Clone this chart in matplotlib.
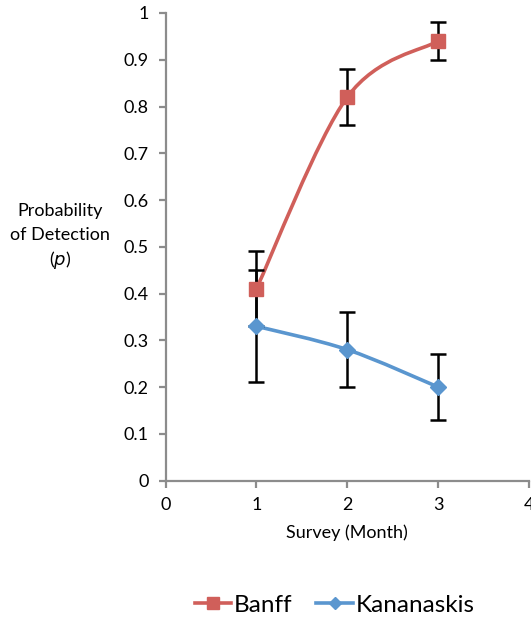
import numpy as np
import matplotlib.pyplot as plt
from matplotlib.path import Path
from matplotlib.patches import PathPatch
from matplotlib.lines import Line2D

plt.rcParams['font.family'] = ['Lato', 'DejaVu Sans']

survey = [1, 2, 3]
banff = [0.41, 0.82, 0.94]
banff_err = [0.08, 0.06, 0.04]
kananaskis = [0.33, 0.28, 0.20]
kananaskis_err = [0.12, 0.08, 0.07]

red = '#D05F5A'
blue = '#5A96CF'
grey = '#8C8C8C'


def smooth_path(xs, ys):
    # excel-style smoothed line: bezier segments through the points
    p = np.column_stack([xs, ys]).astype(float)
    pts = [p[0]]
    codes = [Path.MOVETO]
    n = len(p)
    for i in range(n - 1):
        p0 = p[max(i - 1, 0)]
        p3 = p[min(i + 2, n - 1)]
        c1 = p[i] + (p[i + 1] - p0) / 6
        c2 = p[i + 1] - (p3 - p[i]) / 6
        pts += [c1, c2, p[i + 1]]
        codes += [Path.CURVE4] * 3
    return Path(pts, codes)


fig = plt.figure(figsize=(5.31, 6.19), dpi=100)
ax = fig.add_axes([0.3117, 0.2237, 0.6845, 0.7553])

for vals, err, col, mk, ms in [(banff, banff_err, red, 's', 10),
                                (kananaskis, kananaskis_err, blue, 'D', 8)]:
    ax.add_patch(PathPatch(smooth_path(survey, vals), fill=False, edgecolor=col,
                           lw=2.6, zorder=2, capstyle='round'))
    ax.errorbar(survey, vals, yerr=err, fmt='none', ecolor='black',
                elinewidth=1.8, capsize=6, capthick=1.8, zorder=3)
    ax.plot(survey, vals, ls='none', marker=mk, ms=ms, color=col, zorder=4)

ax.set_xlim(0, 4)
ax.set_ylim(0, 1)
ax.set_xticks([0, 1, 2, 3, 4])
ax.set_yticks(np.arange(0, 1.01, 0.1))
ax.set_yticklabels(['0', '0.1', '0.2', '0.3', '0.4', '0.5', '0.6', '0.7', '0.8', '0.9', '1'])
for s in ['top', 'right']:
    ax.spines[s].set_visible(False)
for s in ['left', 'bottom']:
    ax.spines[s].set_color(grey)
    ax.spines[s].set_linewidth(1.6)
ax.tick_params(colors=grey, labelcolor='black', width=1.6, length=5,
               labelsize=13, pad=7)
ax.set_xlabel('Survey (Month)', fontsize=13, labelpad=8)
ax.patch.set_visible(False)

fig.text(0.113, 1 - 211 / 619, 'Probability', ha='center', va='center', fontsize=13)
fig.text(0.113, 1 - 235 / 619, 'of Detection', ha='center', va='center', fontsize=13)
fig.text(0.113, 1 - 260 / 619, '($\\it{p}$)', ha='center', va='center', fontsize=13)

handles = [Line2D([], [], color=red, lw=2.6, marker='s', ms=8),
           Line2D([], [], color=blue, lw=2.6, marker='D', ms=6)]
fig.legend(handles, ['Banff', 'Kananaskis'], loc='center', ncol=2,
           bbox_to_anchor=(0.63, 1 - 605 / 619), frameon=False, fontsize=17.5,
           handlelength=1.5, handletextpad=0.1, columnspacing=1.0)

fig.savefig('out.png', dpi=100)
